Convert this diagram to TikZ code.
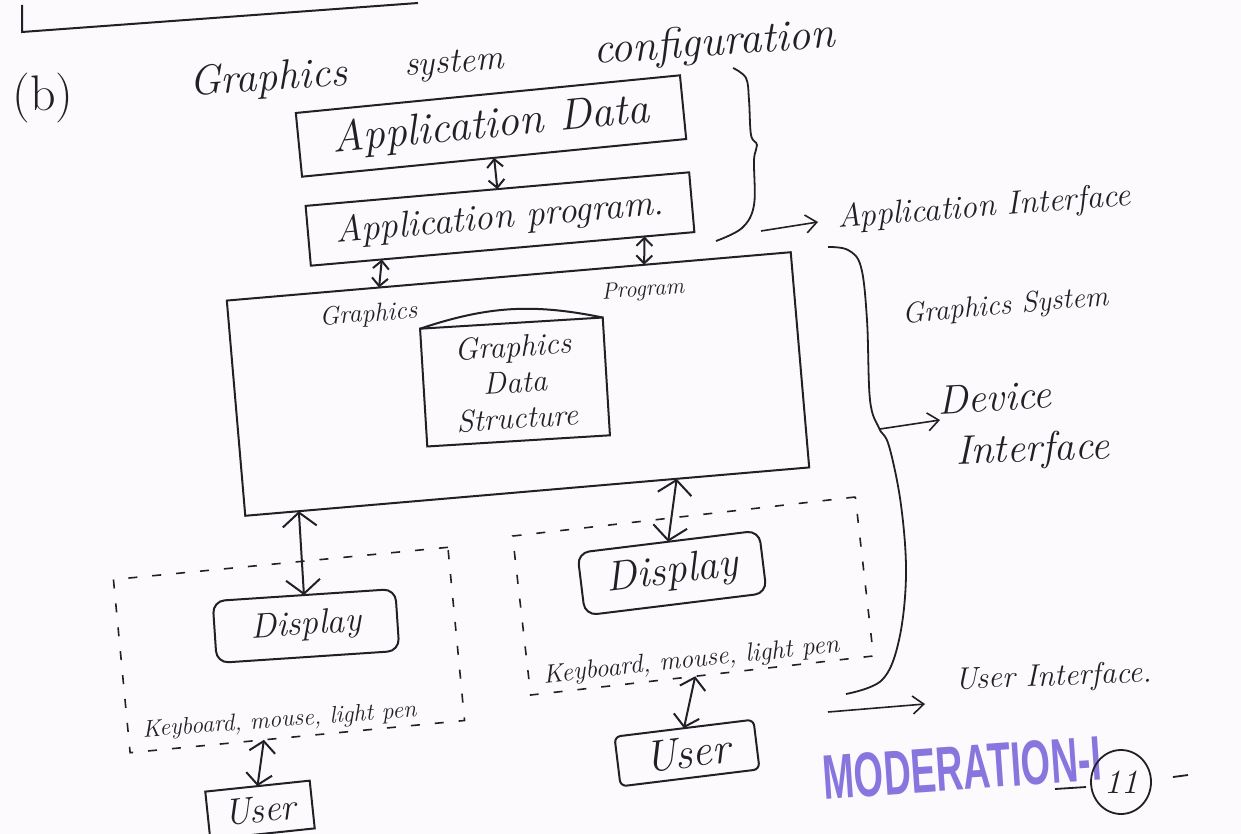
\documentclass[tikz,border=0pt]{standalone}
\usepackage{fontspec}
\newfontfamily\stampfont{Liberation Sans}
\usetikzlibrary{arrows.meta,calc,shapes.geometric}
\definecolor{ink}{RGB}{32,32,38}
\definecolor{paper}{RGB}{252,250,252}
\definecolor{stampcol}{RGB}{135,118,222}
\newcommand{\hw}[2]{\fontsize{#1}{#2}\selectfont\itshape}
\begin{document}
\begin{tikzpicture}[x=1pt,y=-1pt,line width=2pt,color=ink,
  every node/.style={inner sep=0pt,outer sep=0pt},
  box/.style={draw,rectangle},
  rbox/.style={draw,rectangle,rounded corners=12pt},
  dbox/.style={draw,rectangle,line width=1.6pt,dash pattern=on 9pt off 15pt},
  smalldbl/.style={{Straight Barb[length=8pt,width=16pt]}-{Straight Barb[length=8pt,width=16pt]}},
  middbl/.style={{Straight Barb[length=11pt,width=26pt]}-{Straight Barb[length=11pt,width=26pt]}},
  bigdbl/.style={{Straight Barb[length=14pt,width=34pt]}-{Straight Barb[length=14pt,width=34pt]}},
  toarr/.style={-{Straight Barb[length=11pt,width=18pt]}},
  lbl/.style={anchor=base west}]
\fill[paper] (0,0) rectangle (1241,834);
\useasboundingbox (0,0) rectangle (1241,834);

% top rule
\draw (22,5) -- (22,32) -- (418,3);

% heading
\node (b) at (43,98) {\fontsize{50}{50}\selectfont (b)};
\node[lbl,rotate=4] (t1) at (190,96) {\hw{42}{42}Graphics};
\node[lbl,rotate=4] (t2) at (405,76) {\hw{35}{35}system};
\node[lbl,rotate=4] (t3) at (594,64) {\hw{44}{44}configuration};

% application boxes
\node[box,rotate=5.6,minimum width=386pt,minimum height=64pt] (ad) at (491,126) {\hw{44}{44}Application Data};
\node[box,rotate=5,minimum width=385pt,minimum height=60pt] (ap) at (500,219) {\hw{37}{37}Application program.};

% graphics system box
\node[box,rotate=4.9,minimum width=566pt,minimum height=216pt] (big) at (518,384) {};
\node[lbl,rotate=4] (glbl) at (320,325) {\hw{26}{26}Graphics};
\node[lbl,rotate=4] (plbl) at (602,299) {\hw{23}{23}Program};

% graphics data structure (cylinder)
\node[box,rotate=3.5,minimum width=183pt,minimum height=118pt,align=center,font=\hw{31}{36}] (gds) at (515,382)
  {Graphics\\ Data\\ Structure};
\draw (gds.north west) to[bend left=15] (gds.north east);

% device groups
\node[dbox,rotate=5.5,minimum width=336pt,minimum height=174pt] (ldash) at (289,650) {};
\node[dbox,rotate=6.5,minimum width=345pt,minimum height=160pt] (rdash) at (693,596) {};
\node[rbox,rotate=3.8,minimum width=183pt,minimum height=62pt] (ldisp) at (306,626) {\hw{35}{35}Display};
\node[rbox,rotate=7,minimum width=183pt,minimum height=63pt] (rdisp) at (672,573) {\hw{42}{42}Display};
\node[lbl,rotate=4.2] (lkb) at (143,737) {\hw{24}{24}Keyboard, mouse, light pen};
\node[lbl,rotate=6] (rkb) at (544,683) {\hw{26}{26}Keyboard, mouse, light pen};
\node[box,rotate=6,minimum width=105pt,minimum height=48pt] (luser) at (260,810) {\hw{37}{37}User};
\node[rbox,rounded corners=6pt,rotate=7,minimum width=140pt,minimum height=50pt] (ruser) at (687,753) {\hw{44}{44}User};

% connectors
\draw[smalldbl] (ad.south) -- (ap.north);
\draw[smalldbl] ($(ap.south west)!0.185!(ap.south east)$) -- ($(big.north west)!0.27!(big.north east)$);
\draw[smalldbl] ($(ap.south west)!0.87!(ap.south east)$) -- ($(big.north west)!0.74!(big.north east)$);
\draw[bigdbl] ($(big.south west)!0.095!(big.south east)$) -- (ldisp.north);
\draw[bigdbl] ($(big.south west)!0.765!(big.south east)$) -- (rdisp.north);
\draw[middbl] ($(ldash.south west)!0.4!(ldash.south east)$) -- (luser.north);
\draw[middbl] ($(rdash.south west)!0.48!(rdash.south east)$) -- (ruser.north);

% braces
\draw[line width=1.8pt] plot[smooth,tension=0.6] coordinates {(733,68) (746,78) (749,100) (751,135) (757,145) (754,160) (754,205) (742,228) (716,241)};
\draw[line width=1.8pt] plot[smooth,tension=0.6] coordinates {(828,247) (848,250) (861,267) (867,320) (870,400) (879,428) (889,446) (901,505) (906,575) (899,640) (882,680) (846,694)};

% interface labels
\coordinate (ai0) at (761,231);
\coordinate (ai1) at (818,222);
\draw[toarr,line width=1.6pt] (ai0) -- (ai1);
\node[lbl,rotate=4.5] (aitxt) at (838,228) {\hw{33}{33}Application Interface};
\node[lbl,rotate=5] (gstxt) at (903,323) {\hw{29}{29}Graphics System};
\coordinate (cusp) at (880,429);
\coordinate (devtip) at (940,420);
\draw[toarr,line width=1.6pt] (cusp) -- (devtip);
\node[lbl,rotate=3] (dev) at (938,414) {\hw{41}{41}Device};
\node[lbl,rotate=2] (intf) at (956,464) {\hw{41}{41}Interface};
\coordinate (ui0) at (828,712);
\coordinate (ui1) at (925,704);
\draw[toarr,line width=1.6pt] (ui0) -- (ui1);
\node[lbl,rotate=2] (uitxt) at (955,689) {\hw{31}{31}User Interface.};

% stamp and page number
\node[rotate=4,text=stampcol] (stamp) at (962,768)
  {\scalebox{0.6}[1]{\stampfont\bfseries\fontsize{63}{63}\selectfont MODERATION-I}};
\node[draw,ellipse,minimum width=60pt,minimum height=64pt,line width=1.8pt] (pg) at (1121,782) {\hw{34}{34}11};
\draw[line width=1.8pt] (1055,789) -- (1086,787);
\draw[line width=1.8pt] (1173,777) -- (1188,775);
\end{tikzpicture}
\end{document}
